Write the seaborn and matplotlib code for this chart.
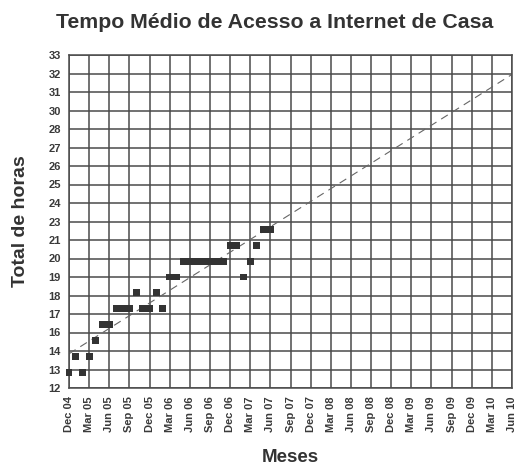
import numpy as np
import pandas as pd
import seaborn as sns
import matplotlib.pyplot as plt

# months counted from Dec 04 (0 = Dec 04)
meses = list(range(0, 31))
horas = [13, 14, 13, 14, 15, 16, 16, 17, 17, 17, 18, 17, 17, 18, 17,
         19, 19, 20, 20, 20, 20, 20, 20, 20, 21, 21, 19, 20, 21, 22, 22]

x_labels = ["Dec 04", "Mar 05", "Jun 05", "Sep 05", "Dec 05", "Mar 06", "Jun 06",
            "Sep 06", "Dec 06", "Mar 07", "Jun 07", "Sep 07", "Dec 07", "Mar 08",
            "Jun 08", "Sep 08", "Dec 08", "Mar 09", "Jun 09", "Sep 09", "Dec 09",
            "Mar 10", "Jun 10"]
y_labels = ["12", "13", "14", "16", "17", "18", "19", "20", "21", "23", "24",
            "25", "26", "27", "28", "30", "31", "32", "33"]

df = pd.DataFrame({"mes": meses, "horas": horas})

sns.set_style("white")
plt.rcParams['font.family'] = ['Liberation Sans', 'DejaVu Sans']

fig = plt.figure(figsize=(5.2, 4.67), dpi=100)
ax = fig.add_axes([69 / 520, 1 - 388 / 467, (512 - 69) / 520, (388 - 55) / 467])

ax.set_xlim(0, 66)
ax.set_ylim(12, 33)

grid_c = "#4a4a4a"
ax.set_xticks(np.arange(0, 67, 3))
ax.set_xticklabels(x_labels, rotation=90, fontsize=8, fontweight="bold", color="#3a3a3a")
ax.set_yticks(np.linspace(12, 33, 19))
ax.set_yticklabels(y_labels, fontsize=8, fontweight="bold", color="#3a3a3a")
ax.grid(True, color=grid_c, linewidth=1.1)
ax.set_axisbelow(True)
ax.tick_params(axis="both", direction="out", length=5, width=1, color=grid_c, pad=1)
for s in ax.spines.values():
    s.set_color(grid_c)
    s.set_linewidth(1.1)

# trend line across the full axis range
sns.regplot(data=df, x="mes", y="horas", ax=ax, scatter=False, ci=None, truncate=False,
            line_kws=dict(color="#666666", linewidth=0.8, linestyle=(0, (7, 5))))
sns.scatterplot(data=df, x="mes", y="horas", ax=ax, marker="s", s=25,
                color="#333333", edgecolor="none", zorder=3, clip_on=False)

ax.set_xlim(0, 66)
ax.set_ylim(12, 33)
ax.set_xlabel("Meses", fontsize=13.5, fontweight="bold", color="#333333", labelpad=12)
ax.set_ylabel("Total de horas", fontsize=14, fontweight="bold", color="#333333", labelpad=14)

fig.text(275 / 520, 1 - 22 / 467, "Tempo Médio de Acesso a Internet de Casa",
         ha="center", va="center", fontsize=15.3, fontweight="bold", color="#333333")

fig.savefig("out.png", dpi=100)
